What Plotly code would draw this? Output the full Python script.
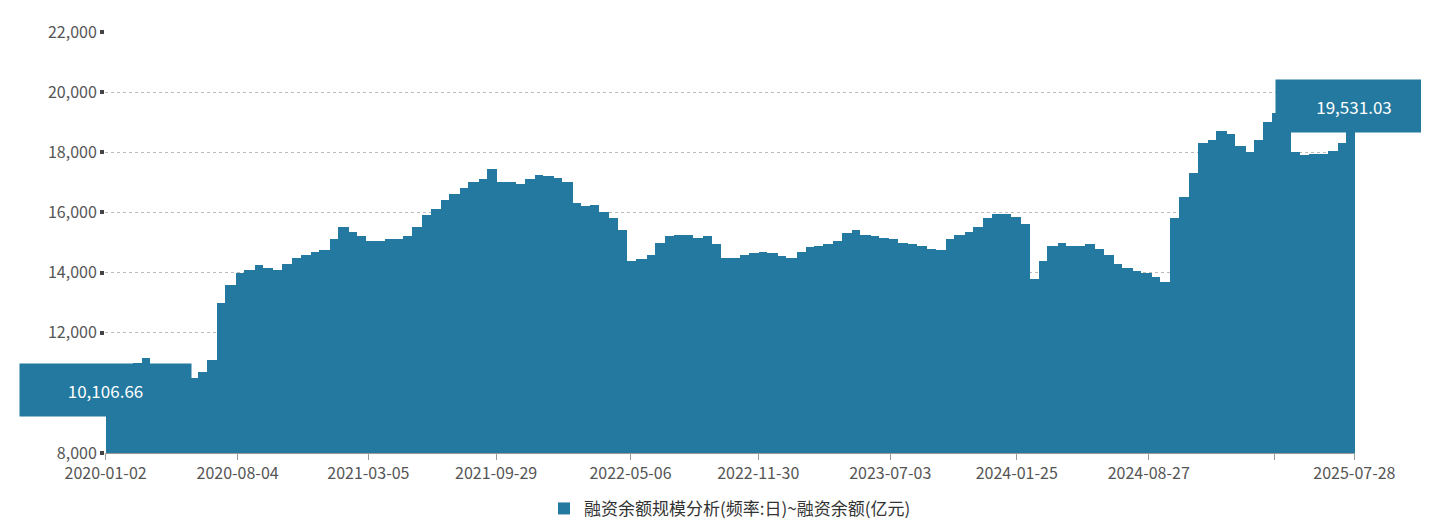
import pandas as pd
import plotly.graph_objects as go

values = [10107,10300,10500,11000,11150,10600,10100,10200,10400,10500,10700,11100,13000,13600,14000,14100,
14250,14150,14100,14300,14500,14600,14700,14750,15100,15500,15350,15200,15050,15050,15100,15100,15200,15500,
15900,16100,16400,16600,16800,17000,17100,17450,17000,17000,16950,17100,17250,17200,17150,17000,16300,16200,
16250,16000,15800,15400,14400,14450,14600,15000,15200,15250,15250,15150,15200,14950,14500,14500,14600,14650,
14700,14650,14550,14500,14700,14850,14900,14950,15050,15300,15400,15250,15200,15150,15100,15000,14950,14900,
14800,14750,15100,15250,15350,15500,15800,15950,15950,15850,15600,13800,14400,14900,15000,14900,14900,14950,
14800,14600,14300,14150,14050,14000,13850,13700,15800,16500,17300,18300,18400,18700,18600,18200,18000,18400,
19000,19300,19000,18000,17900,17950,17950,18050,18300,18700,19531.03]

dates = ["2020-01-02"]
for y in range(2020, 2026):
    for m in range(1, 13):
        for d in (1, 15):
            s = f"{y}-{m:02d}-{d:02d}"
            if s > "2020-01-02" and s < "2025-07-28":
                dates.append(s)
dates.append("2025-07-28")
dates = pd.to_datetime(dates)

tick_dates = ["2020-01-02","2020-08-04","2021-03-05","2021-09-29","2022-05-06","2022-11-30",
              "2023-07-03","2024-01-25","2024-08-27","2025-03-20","2025-07-28"]
tick_text = ["2020-01-02","2020-08-04","2021-03-05","2021-09-29","2022-05-06","2022-11-30",
             "2023-07-03","2024-01-25","2024-08-27","","2025-07-28"]

widths = [(dates[i+1]-dates[i]).total_seconds()*1000 for i in range(len(dates)-1)] + [86400000]

color = "#23799f"
fig = go.Figure(go.Bar(x=dates, y=values, width=widths, offset=0, marker=dict(color=color, line=dict(width=0)),
                       name="融资余额规模分析(频率:日)~融资余额(亿元)"))
fig.update_layout(
    width=1429, height=531, margin=dict(l=97, r=82, t=24, b=75),
    plot_bgcolor="white", paper_bgcolor="white", bargap=0,
    font=dict(family="Noto Sans CJK SC, Noto Sans, sans-serif", size=16, color="#555"),
    showlegend=True,
    legend=dict(orientation="h", x=0.5, xanchor="center", y=-0.09, yanchor="top", font=dict(size=17, color="#333")),
    xaxis=dict(type="date", range=[pd.Timestamp("2020-01-01"), pd.Timestamp("2025-07-29")],
               tickvals=pd.to_datetime(tick_dates), ticktext=tick_text, showgrid=False,
               showline=True, linecolor="#999", ticks="outside", ticklen=6, tickcolor="#999"),
    yaxis=dict(range=[8000, 22000], tickvals=list(range(8000, 22001, 2000)), tickformat=",",
               showgrid=True, gridcolor="#bbb", griddash="dot", zeroline=False,
               ticks="outside", ticklen=4, tickwidth=4, tickcolor="#444"),
)
fig.add_annotation(x=dates[0], y=values[0], text="10,106.66", showarrow=False, bgcolor=color,
                   font=dict(color="white", size=17), width=169, height=50, xanchor="center", yanchor="middle")
fig.add_annotation(x=dates[-1], y=values[-1], text="19,531.03", showarrow=False, bgcolor=color,
                   font=dict(color="white", size=17), width=154, height=50, xanchor="center", yanchor="middle")
fig.write_html("out.html")
